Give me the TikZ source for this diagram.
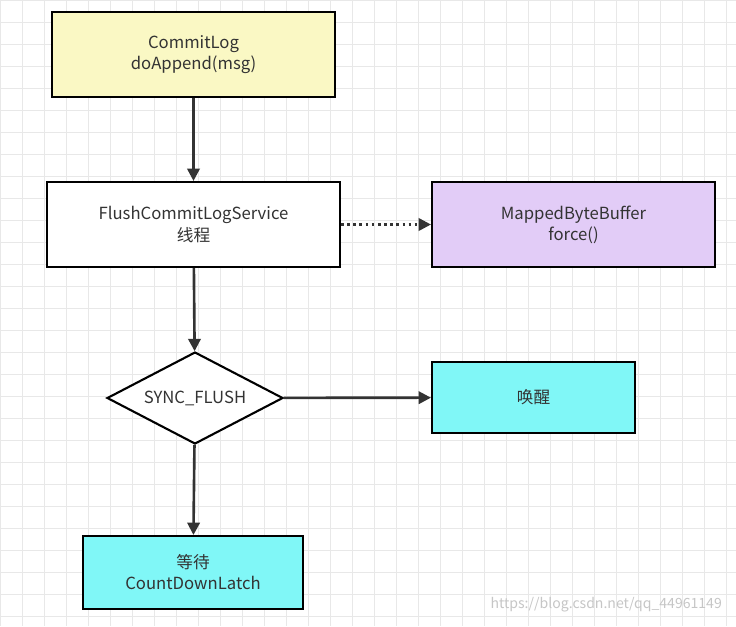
\documentclass[tikz,border=0pt]{standalone}
\usepackage{fontspec}
\setmainfont{Noto Sans CJK SC}
\usetikzlibrary{shapes.geometric,arrows.meta}
\definecolor{ylw}{HTML}{FAF8C4}
\definecolor{prp}{HTML}{E2CCF7}
\definecolor{cyn}{HTML}{80F7F7}
\definecolor{ln}{HTML}{333333}
\begin{document}
\begin{tikzpicture}[x=0.02cm,y=-0.02cm,
  box/.style={draw=black,line width=1.2pt,minimum width=5.66cm,minimum height=1.7cm,align=center,font=\fontsize{9.5}{12}\selectfont,text=ln},
  arr/.style={draw=ln,line width=1.5pt,-{Triangle[length=7pt,width=7pt]}}]
\useasboundingbox (0,0) rectangle (736,626);
\fill[white] (0,0) rectangle (736,626);
\foreach \x in {0,22,...,736} \draw[gray!18,line width=0.5pt] (\x,0) -- (\x,626);
\foreach \y in {0,22,...,626} \draw[gray!18,line width=0.5pt] (0,\y) -- (736,\y);
\node[box,fill=ylw] (cl) at (193.5,54.5) {CommitLog\\doAppend(msg)};
\node[box,fill=white,minimum width=5.86cm] (fs) at (193.5,224.5) {FlushCommitLogService\\线程};
\node[box,fill=prp] (mb) at (573.5,224.5) {MappedByteBuffer\\force()};
\node[draw=black,line width=1.2pt,fill=white,diamond,aspect=1.9,minimum width=3.52cm,minimum height=1.84cm,inner sep=0pt,font=\fontsize{9.5}{12}\selectfont,text=ln] (sf) at (195,398) {SYNC\_FLUSH};
\node[box,fill=cyn,minimum width=4.06cm,minimum height=1.42cm] (hx) at (533.5,397.5) {唤醒};
\node[box,fill=cyn,minimum width=4.4cm,minimum height=1.46cm] (dd) at (193,572.5) {等待\\CountDownLatch};
\draw[arr] (cl) -- (fs);
\draw[arr,dotted] (fs) -- (mb);
\draw[arr] (fs) -- (sf);
\draw[arr] (sf) -- (hx);
\draw[arr] (sf) -- (dd);
\node[anchor=east,text=gray!45,font=\fontsize{8}{10}\selectfont] (wm) at (728,605) {https://blog.csdn.net/qq\_44961149};
\end{tikzpicture}
\end{document}
